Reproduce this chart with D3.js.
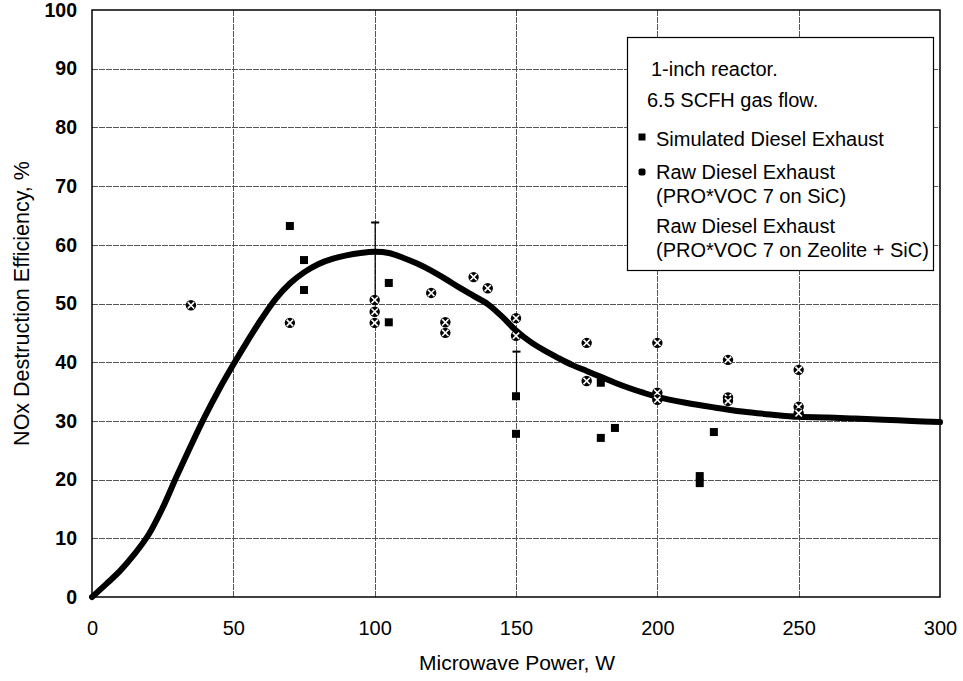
<!DOCTYPE html>
<html><head><meta charset="utf-8">
<script src="https://cdn.jsdelivr.net/npm/d3@7"></script>
<style>body{margin:0;background:#fff}svg{display:block;font-family:"Liberation Sans",Arial,sans-serif}</style>
</head><body><svg id="c" width="963" height="681"></svg>
<script>
// ---- data ----
const xTicks = [0, 50, 100, 150, 200, 250, 300];
const yTicks = [0, 10, 20, 30, 40, 50, 60, 70, 80, 90, 100];
const curveX = [0,5,10,15,20,25,30,35,40,45,50,55,60,65,70,75,80,85,90,95,100,105,110,115,120,125,130,135,140,145,150,155,160,165,170,175,180,185,190,195,200,210,220,230,240,250,260,270,280,290,300];
const curveY = [0,2.2,4.5,7.3,10.6,15.2,20.6,25.8,30.8,35.4,39.6,43.6,47.4,50.8,53.4,55.3,56.7,57.6,58.2,58.6,58.8,58.6,57.8,56.8,55.6,54.2,52.7,51.3,49.9,47.8,45.4,43.5,42,40.7,39.5,38.5,37.5,36.5,35.6,34.8,34.1,33.1,32.3,31.6,31.1,30.7,30.6,30.4,30.2,30.0,29.8];
const simX = [70, 75, 75, 105, 105];
const simY = [63.2, 57.4, 52.3, 53.5, 46.8];
const sicX = [150, 150, 180, 180, 185, 215, 215, 220];
const sicY = [34.2, 27.8, 36.5, 27.1, 28.8, 20.6, 19.4, 28.1];
const zeoX = [35, 70, 100, 100, 100, 120, 125, 125, 135, 140, 150, 150, 175, 175, 200, 200, 200, 225, 225, 225, 250, 250, 250];
const zeoY = [49.7, 46.7, 50.6, 48.6, 46.7, 51.8, 46.8, 45.0, 54.5, 52.6, 47.5, 44.5, 43.3, 36.8, 43.3, 34.8, 33.6, 40.4, 34.0, 33.4, 38.7, 32.4, 31.3];
const errX = [100, 150];
const errLo = [50.6, 34.2];
const errHi = [63.8, 41.8];
const legendNotes = ["1-inch reactor.", "6.5 SCFH gas flow."];
const legendSeries = [["Simulated Diesel Exhaust"], ["Raw Diesel Exhaust", "(PRO*VOC 7 on SiC)"], ["Raw Diesel Exhaust", "(PRO*VOC 7 on Zeolite + SiC)"]];

// ---- chart ----
const svg = d3.select("#c");
const L = 92, R = 940, T = 10, B = 597;
const x = d3.scaleLinear().domain([0, 300]).range([L, R]);
const y = d3.scaleLinear().domain([0, 100]).range([B, T]);

// grid
const grid = svg.append("g").attr("stroke", "#555").attr("stroke-width", 1).attr("stroke-dasharray", "6,1");
grid.selectAll(".gx").data(xTicks.slice(1, -1)).join("line")
  .attr("x1", d => Math.round(x(d)) + 0.5).attr("x2", d => Math.round(x(d)) + 0.5).attr("y1", T).attr("y2", B);
grid.selectAll(".gy").data(yTicks.slice(1, -1)).join("line")
  .attr("y1", d => Math.round(y(d)) + 0.5).attr("y2", d => Math.round(y(d)) + 0.5).attr("x1", L).attr("x2", R);

// axes
const xa = svg.append("g").attr("transform", `translate(0,${B})`)
  .call(d3.axisBottom(x).tickValues(xTicks).tickSize(0).tickPadding(24));
xa.select(".domain").remove();
xa.selectAll("text").attr("font-size", 20).attr("font-family", "Liberation Sans, Arial, sans-serif").attr("fill", "#000");
const ya = svg.append("g").attr("transform", `translate(${L},0)`)
  .call(d3.axisLeft(y).tickValues(yTicks).tickSize(0).tickPadding(15));
ya.select(".domain").remove();
ya.selectAll("text").attr("font-size", 19.5).attr("font-weight", "bold").attr("font-family", "Liberation Sans, Arial, sans-serif").attr("fill", "#000");

// frame
svg.append("rect").attr("x", L).attr("y", T).attr("width", R - L).attr("height", B - T)
  .attr("fill", "none").attr("stroke", "#000").attr("stroke-width", 1.5);

// axis titles
svg.append("text").attr("x", (L + R) / 2 + 1).attr("y", 670).attr("text-anchor", "middle")
  .attr("font-size", 21).text("Microwave Power, W");
svg.append("text").attr("transform", `translate(29,${(T + B) / 2}) rotate(-90)`).attr("text-anchor", "middle")
  .attr("font-size", 21.5).text("NOx Destruction Efficiency, %");

// error bars
const eb = svg.append("g").attr("stroke", "#000").attr("stroke-width", 1.2);
errX.forEach((v, i) => {
  eb.append("line").attr("x1", x(v) + 0.5).attr("x2", x(v) + 0.5).attr("y1", y(errLo[i])).attr("y2", y(errHi[i]));
  eb.append("line").attr("x1", x(v) - 3.5).attr("x2", x(v) + 4.5).attr("y1", y(errHi[i])).attr("y2", y(errHi[i])).attr("stroke-width", 2);
});

// curve
const line = d3.line().x(d => x(d[0])).y(d => y(d[1])).curve(d3.curveCatmullRom.alpha(0.5));
svg.append("path").datum(curveX.map((v, i) => [v, curveY[i]]))
  .attr("d", line).attr("fill", "none").attr("stroke", "#000").attr("stroke-width", 6).attr("stroke-linecap", "round");

// markers
function square(g, px, py, s) {
  g.append("rect").attr("x", px - s / 2).attr("y", py - s / 2).attr("width", s).attr("height", s).attr("fill", "#000");
}
function crossCircle(g, px, py) {
  g.append("circle").attr("cx", px).attr("cy", py).attr("r", 5.2).attr("fill", "#000");
  g.append("path").attr("d", `M${px - 3.2},${py - 3.2}L${px + 3.2},${py + 3.2}M${px - 3.2},${py + 3.2}L${px + 3.2},${py - 3.2}`)
    .attr("stroke", "#fff").attr("stroke-width", 1.6);
}
const mk = svg.append("g");
simX.forEach((v, i) => square(mk, x(v), y(simY[i]), 8));
sicX.forEach((v, i) => square(mk, x(v), y(sicY[i]), 8));
zeoX.forEach((v, i) => crossCircle(mk, x(v), y(zeoY[i])));

// legend
const lg = svg.append("g");
lg.append("rect").attr("x", 627.5).attr("y", 37.5).attr("width", 306).attr("height", 233)
  .attr("fill", "#fff").attr("stroke", "#000").attr("stroke-width", 1.2);
const fs = 20;
lg.append("text").attr("x", 651).attr("y", 76).attr("font-size", fs).text(legendNotes[0]);
lg.append("text").attr("x", 647).attr("y", 107).attr("font-size", fs).text(legendNotes[1]);
const rows = [146, 179, 233];
legendSeries.forEach((lines, i) => {
  lines.forEach((t, j) => lg.append("text").attr("x", 656).attr("y", rows[i] + j * 24).attr("font-size", fs).text(t));
});
square(lg, 642, 137, 7);
lg.append("rect").attr("x", 638.5).attr("y", 168.5).attr("width", 7).attr("height", 7).attr("rx", 2).attr("fill", "#000");
</script></body></html>
